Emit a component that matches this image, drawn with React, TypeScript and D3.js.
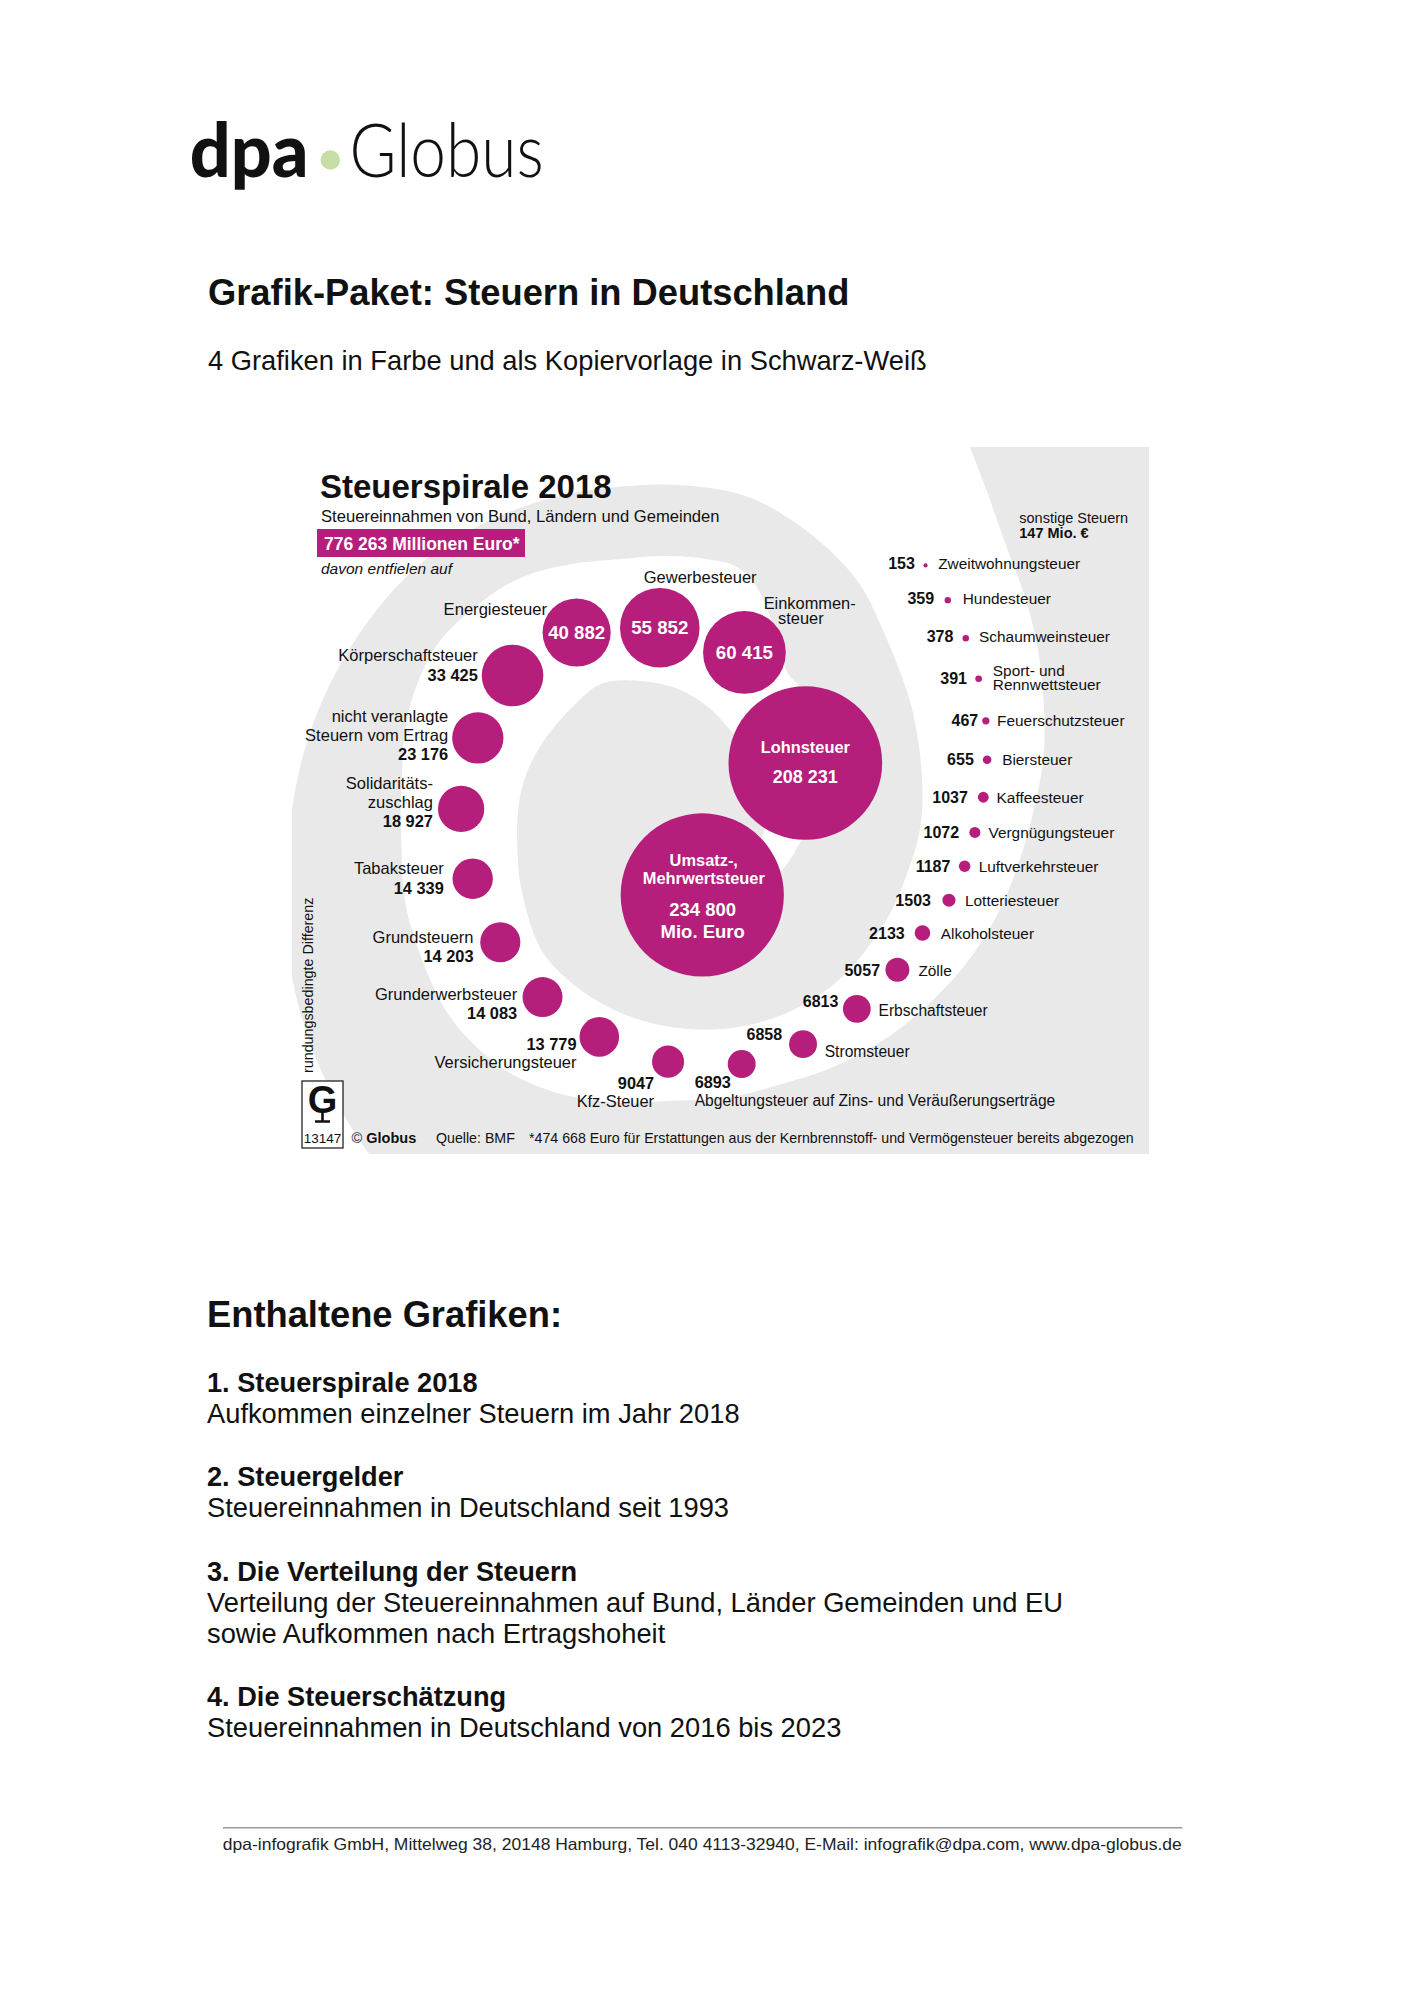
import React from "react";
import * as d3 from "d3";

// ---------------- data ----------------
const taxNames: string[][] = [
  ["Umsatz-,", "Mehrwertsteuer"],
  ["Lohnsteuer"],
  ["Einkommen-", "steuer"],
  ["Gewerbesteuer"],
  ["Energiesteuer"],
  ["Körperschaftsteuer"],
  ["nicht veranlagte", "Steuern vom Ertrag"],
  ["Solidaritäts-", "zuschlag"],
  ["Tabaksteuer"],
  ["Grundsteuern"],
  ["Grunderwerbsteuer"],
  ["Versicherungsteuer"],
  ["Kfz-Steuer"],
  ["Abgeltungsteuer auf Zins- und Veräußerungserträge"],
  ["Stromsteuer"],
  ["Erbschaftsteuer"],
  ["Zölle"],
  ["Alkoholsteuer"],
  ["Lotteriesteuer"],
  ["Luftverkehrsteuer"],
  ["Vergnügungsteuer"],
  ["Kaffeesteuer"],
  ["Biersteuer"],
  ["Feuerschutzsteuer"],
  ["Sport- und", "Rennwettsteuer"],
  ["Schaumweinsteuer"],
  ["Hundesteuer"],
  ["Zweitwohnungsteuer"],
];
const taxValues: number[] = [
  234800, 208231, 60415, 55852, 40882, 33425, 23176, 18927, 14339, 14203, 14083, 13779,
  9047, 6893, 6858, 6813, 5057, 2133, 1503, 1187, 1072, 1037, 655, 467, 391, 378, 359, 153,
];
const totalValue = 776263;
const otherTaxesValue = 147;
const unitLabel = "Mio. Euro";
const chartNumber = "13147";
const footnote =
  "*474 668 Euro für Erstattungen aus der Kernbrennstoff- und Vermögensteuer bereits abgezogen";

const listTitles = [
  "1. Steuerspirale 2018",
  "2. Steuergelder",
  "3. Die Verteilung der Steuern",
  "4. Die Steuerschätzung",
];
const listDescriptions: string[][] = [
  ["Aufkommen einzelner Steuern im Jahr 2018"],
  ["Steuereinnahmen in Deutschland seit 1993"],
  [
    "Verteilung der Steuereinnahmen auf Bund, Länder Gemeinden und EU",
    "sowie Aufkommen nach Ertragshoheit",
  ],
  ["Steuereinnahmen in Deutschland von 2016 bis 2023"],
];

// ---------------- styles / layout ----------------
const MAGENTA = "#b51e7b";
const GRAY = "#e9e9e9";
const INK = "#111";
const FONT = "'Liberation Sans', Arial, Helvetica, sans-serif";

const SP_CX = 700;
const SP_CY = 830;
const GUIDE_DEG = [-60, -49.4, -20.7, 0.4, 16.2, 25.3, 36, 49.6, 80, 115, 151, 168, 185, 202, 219, 238, 259, 284, 327, 448, 460];
const GUIDE_R = [360, 347.5, 305.7, 275, 258.2, 244.5, 241.7, 237.6, 237.7, 230.1, 229.1, 232.5, 239.8, 240.4, 243.2, 232.8, 205.9, 183.1, 125.1, 65, 60];
const SPIRAL_START_DEG = 448;

const BAND_IN_DEG = [-300, -226, -180, -152, -137, -120, -103, -82, -57, -48, -38, -22, -12, 0, 12, 32, 52, 68, 85, 98, 142, 157, 175, 196, 222, 236, 252, 257, 285, 295, 330, 367, 400, 432];
const BAND_IN_R = [540, 465, 410, 394, 387, 370, 352, 338, 294, 271, 254, 235, 227, 220, 211, 205, 204, 202, 200, 199, 200, 190, 183, 183, 177, 178, 155, 149, 106, 96, 75, 62, 50, 40];
const BAND_OUT_DEG = [-300, -70, -60, -55, -44, -34, -20.8, -9, -5, 6.7, 19.7, 36, 52.8, 71.8, 90, 96, 118, 129, 142.6, 156, 166, 177, 190, 202, 215, 234, 253, 280, 297, 320, 340, 367, 400, 432];
const BAND_OUT_R = [900, 700, 500, 467, 419, 396, 367, 346, 336, 319, 305, 288, 276, 266, 270, 271, 299, 310, 313, 306, 304, 298, 302, 315, 323, 311, 282, 266, 180, 165, 140, 100, 85, 60];

const PANEL = { x: 292, y: 447, w: 857, h: 707 };

const LABEL_LAYOUT: any[] = [
  { kind: "inside", nameDy: [-29, -10.6], valueDy: 20.7, unitDy: 42.7, dx: 1.5, nameSize: 16.4, valueSize: 18.5 },
  { kind: "inside", nameDy: [-10], valueDy: 20, dx: 0, nameSize: 16.4, valueSize: 18 },
  { kind: "valueInside", valueDy: 6.6, valueSize: 18.7, anchor: "start", nameDx: [19.2, 33.6], nameDy: [-43.4, -28.4], nameSize: 16.4 },
  { kind: "valueInside", valueDy: 6.5, valueSize: 18.7, anchor: "start", nameDx: [-16], nameDy: [-44.4], nameSize: 16.5 },
  { kind: "valueInside", valueDy: 6.7, valueSize: 18.6, anchor: "end", nameDx: [-29.7], nameDy: [-18], nameSize: 16.6 },
  { kind: "left", gap: 4, nameDy: [-14], valueDy: 6 },
  { kind: "left", gap: 4, nameDy: [-16, 3], valueDy: 22 },
  { kind: "left", gap: 5, nameDy: [-20, -1.3], valueDy: 17.7 },
  { kind: "left", gap: 8.7, nameDy: [-4.3], valueDy: 15 },
  { kind: "left", gap: 6.7, nameDy: [0.7], valueDy: 19.7 },
  { kind: "left", gap: 5.4, nameDy: [2.7], valueDy: 22 },
  { kind: "left", gap: 3, nameDy: [31], valueDy: 13 },
  { kind: "offset", anchor: "end", dx: -14, nameDy: [45], valueDy: 27, nameSize: 16.4 },
  { kind: "offset", anchor: "start", dx: -47, nameDy: [42], valueDy: 24, nameSize: 15.6 },
  { kind: "split", gapL: 7, gapR: 7.7, valueDy: -4, nameDy: [13], nameSize: 15.6 },
  { kind: "split", gapL: 4.6, gapR: 7.8, valueDy: -2, nameDy: [6.7], nameSize: 15.6 },
  { kind: "split", gapL: 5.4, gapR: 9, valueDy: 6, nameDy: [6] },
  { kind: "split", gapL: 10, gapR: 10.5, valueDy: 5.7, nameDy: [5.7] },
  { kind: "split", gapL: 11.5, gapR: 9.5, valueDy: 6, nameDy: [6] },
  { kind: "split", gapL: 8.5, gapR: 8.2, valueDy: 5.7, nameDy: [5.7] },
  { kind: "split", gapL: 10.2, gapR: 8.1, valueDy: 5.6, nameDy: [5.6] },
  { kind: "split", gapL: 10, gapR: 7.9, valueDy: 5.4, nameDy: [5.4] },
  { kind: "split", gapL: 9, gapR: 10.7, valueDy: 5.3, nameDy: [5.3] },
  { kind: "split", gapL: 4, gapR: 7.6, valueDy: 5, nameDy: [5] },
  { kind: "split", gapL: 8.3, gapR: 10.9, valueDy: 5, nameDy: [-2.7, 11.7] },
  { kind: "split", gapL: 9.1, gapR: 10, valueDy: 4, nameDy: [4] },
  { kind: "split", gapL: 10.5, gapR: 11.8, valueDy: 4.3, nameDy: [4.3] },
  { kind: "split", gapL: 8.6, gapR: 10.5, valueDy: 4, nameDy: [4] },
];

// ---------------- helpers ----------------
const groupFmt = d3.format(",d");
const fmt = (v: number) => (v >= 10000 ? groupFmt(v).replace(/,/g, " ") : String(v));
const rad = (d: number) => (d * Math.PI) / 180;

const rScale = d3.scaleSqrt().domain([0, d3.max(taxValues) as number]).range([0, 81.6]);
const guideR = d3.scaleLinear().domain(GUIDE_DEG).range(GUIDE_R);
const gapScale = d3
  .scaleLinear()
  .domain([0, 7, 8, 10, 11.5, 14, 20, 26.5, 27.5, 29, 31, 36, 40, 48, 56, 81, 160])
  .range([37, 35.5, 30.5, 27.5, 23.5, 28, 24.5, 31, 36.3, 37, 50, 36.5, 29, 25, 15, 7, 9])
  .clamp(true);

const guidePt = (deg: number): [number, number] => {
  const r = guideR(deg);
  return [SP_CX + r * Math.cos(rad(deg)), SP_CY + r * Math.sin(rad(deg))];
};

function computeLayout() {
  const out: { deg: number; x: number; y: number; r: number }[] = [];
  taxValues.forEach((v, i) => {
    const r = rScale(v);
    if (i === 0) {
      const [x, y] = guidePt(SPIRAL_START_DEG);
      out.push({ deg: SPIRAL_START_DEG, x, y, r });
      return;
    }
    const prev = out[i - 1];
    const need = prev.r + r + gapScale(prev.r + r);
    let deg = prev.deg;
    let [x, y] = guidePt(deg);
    while (Math.hypot(x - prev.x, y - prev.y) < need && deg > -80) {
      deg -= 0.05;
      [x, y] = guidePt(deg);
    }
    out.push({ deg, x, y, r });
  });
  return out;
}

function bandPath() {
  const ri = d3.scaleLinear().domain(BAND_IN_DEG).range(BAND_IN_R);
  const ro = d3.scaleLinear().domain(BAND_OUT_DEG).range(BAND_OUT_R);
  const thetas = d3.range(-300, 432.01, 1);
  const smooth = (arr: number[], k: number) =>
    arr.map((_, i) => d3.mean(arr.slice(Math.max(0, i - k), Math.min(arr.length, i + k + 1))) as number);
  const rIn = smooth(thetas.map((t) => ri(t)), 4);
  const rOut = smooth(thetas.map((t) => ro(t)), 4);
  const pt = (t: number, r: number): [number, number] => [
    SP_CX + r * Math.cos(rad(t)),
    SP_CY + r * Math.sin(rad(t)),
  ];
  const outer = thetas.map((t, i) => pt(t, rOut[i]));
  const inner = thetas.map((t, i) => pt(t, rIn[i])).reverse();
  return (d3.line()([...outer, ...inner]) as string) + "Z";
}

type T = { x: number; y: number; text: string; anchor: string; size: number; bold?: boolean; fill?: string };

function labelTexts(i: number, p: { x: number; y: number; r: number }): T[] {
  const s = LABEL_LAYOUT[i];
  const names = taxNames[i];
  const val = fmt(taxValues[i]);
  const { x: cx, y: cy, r } = p;
  const res: T[] = [];
  if (s.kind === "inside") {
    names.forEach((n, k) =>
      res.push({ x: cx + s.dx, y: cy + s.nameDy[k], text: n, anchor: "middle", size: s.nameSize, bold: true, fill: "#fff" })
    );
    res.push({ x: cx + s.dx * 0.3, y: cy + s.valueDy, text: val, anchor: "middle", size: s.valueSize, bold: true, fill: "#fff" });
    if (s.unitDy !== undefined)
      res.push({ x: cx + s.dx * 0.3, y: cy + s.unitDy, text: unitLabel, anchor: "middle", size: s.valueSize, bold: true, fill: "#fff" });
  } else if (s.kind === "valueInside") {
    res.push({ x: cx, y: cy + s.valueDy, text: val, anchor: "middle", size: s.valueSize, bold: true, fill: "#fff" });
    names.forEach((n, k) =>
      res.push({ x: cx + s.nameDx[k], y: cy + s.nameDy[k], text: n, anchor: s.anchor, size: s.nameSize })
    );
  } else if (s.kind === "left") {
    const x = cx - r - s.gap;
    names.forEach((n, k) => res.push({ x, y: cy + s.nameDy[k], text: n, anchor: "end", size: s.nameSize || 16.5 }));
    res.push({ x, y: cy + s.valueDy, text: val, anchor: "end", size: s.valueSize || 16.4, bold: true });
  } else if (s.kind === "offset") {
    const x = cx + s.dx;
    names.forEach((n, k) => res.push({ x, y: cy + s.nameDy[k], text: n, anchor: s.anchor, size: s.nameSize || 16.4 }));
    res.push({ x, y: cy + s.valueDy, text: val, anchor: s.anchor, size: 16.3, bold: true });
  } else {
    res.push({ x: cx - r - s.gapL, y: cy + s.valueDy, text: val, anchor: "end", size: s.valueSize || 16, bold: true });
    names.forEach((n, k) =>
      res.push({ x: cx + r + s.gapR, y: cy + s.nameDy[k], text: n, anchor: "start", size: s.nameSize || 15.4 })
    );
  }
  return res;
}

// ---------------- component ----------------
export default function App() {
  const layout = React.useMemo(() => computeLayout(), []);
  const band = React.useMemo(() => bandPath(), []);

  const listRows: { y: number; text: string; bold: boolean }[] = [];
  let yy = 1391.5;
  listTitles.forEach((t, k) => {
    listRows.push({ y: yy, text: t, bold: true });
    listDescriptions[k].forEach((d, j) => listRows.push({ y: yy + 31 * (j + 1), text: d, bold: false }));
    yy += 31 * listDescriptions[k].length + 63.5;
  });

  const allLabels = layout.flatMap((p, i) => labelTexts(i, p));

  return (
    <svg
      width={1413}
      height={2000}
      viewBox="0 0 1413 2000"
      style={{ position: "absolute", left: 0, top: 0, display: "block", background: "#fff" }}
      fontFamily={FONT}
    >
      <rect x={0} y={0} width={1413} height={2000} fill="#fff" />

      {/* Logo */}
      <text x={189.7} y={176.7} fontFamily="Lato, 'DejaVu Sans', sans-serif" fontWeight={900} fontSize={75} textLength={118.7} lengthAdjust="spacingAndGlyphs" fill="#111">
        dpa
      </text>
      <circle cx={330.3} cy={160} r={9.7} fill="#c6dea6" />
      <text x={349.6} y={176.7} fontFamily="Lato, 'DejaVu Sans', sans-serif" fontWeight={300} fontSize={74} textLength={194} lengthAdjust="spacingAndGlyphs" fill="#111">
        Globus
      </text>

      <text x={208} y={305} fontSize={36.3} fontWeight="bold" fill={INK}>
        Grafik-Paket: Steuern in Deutschland
      </text>
      <text x={208} y={370} fontSize={27.3} fill={INK}>
        4 Grafiken in Farbe und als Kopiervorlage in Schwarz-Weiß
      </text>

      {/* Chart panel */}
      <defs>
        <clipPath id="panelClip">
          <rect x={PANEL.x} y={PANEL.y} width={PANEL.w} height={PANEL.h} />
        </clipPath>
      </defs>
      <rect x={PANEL.x} y={PANEL.y} width={PANEL.w} height={PANEL.h} fill={GRAY} />
      <path d={band} fill="#fff" clipPath="url(#panelClip)" />

      {layout.map((p, i) => (
        <circle key={"c" + i} cx={p.x} cy={p.y} r={p.r} fill={MAGENTA} />
      ))}

      {allLabels.map((t, k) => (
        <text
          key={"l" + k}
          x={t.x}
          y={t.y}
          textAnchor={t.anchor as any}
          fontSize={t.size}
          fontWeight={t.bold ? "bold" : "normal"}
          fill={t.fill || INK}
        >
          {t.text}
        </text>
      ))}

      {/* chart header */}
      <text x={320} y={498} fontSize={33} fontWeight="bold" fill={INK}>
        Steuerspirale 2018
      </text>
      <text x={321} y={522} fontSize={16.6} fill={INK}>
        Steuereinnahmen von Bund, Ländern und Gemeinden
      </text>
      <rect x={317} y={529} width={208} height={28} fill={MAGENTA} />
      <text x={324} y={550} fontSize={17.5} fontWeight="bold" fill="#fff">
        {fmt(totalValue)} Millionen Euro*
      </text>
      <text x={321} y={574} fontSize={15.5} fontStyle="italic" fill={INK}>
        davon entfielen auf
      </text>

      <text x={1019.3} y={523.3} fontSize={14.5} fill={INK}>
        sonstige Steuern
      </text>
      <text x={1019.3} y={537.7} fontSize={14.5} fontWeight="bold" fill={INK}>
        {otherTaxesValue} Mio. €
      </text>

      <text transform="translate(312.5,1073) rotate(-90)" fontSize={14.3} fill={INK}>
        rundungsbedingte Differenz
      </text>

      {/* chart footer */}
      <rect x={302} y={1081} width={41} height={67} fill="#fff" stroke={INK} strokeWidth={1.2} />
      <text x={322.5} y={1113} textAnchor="middle" fontSize={38} fontWeight="bold" fill={INK}>
        G
      </text>
      <path d="M322.5,1112 V1121 M315,1121.5 H330" stroke={INK} strokeWidth={2.6} fill="none" />
      <text x={322.5} y={1143} textAnchor="middle" fontSize={13.5} fill={INK}>
        {chartNumber}
      </text>
      <text x={351.6} y={1143} fontSize={14.5} fill={INK}>
        <tspan>© </tspan>
        <tspan fontWeight="bold">Globus</tspan>
      </text>
      <text x={436} y={1143} fontSize={14.2} fill={INK}>
        Quelle: BMF
      </text>
      <text x={529} y={1143} fontSize={14.2} fill={INK}>
        {footnote}
      </text>

      {/* list */}
      <text x={207} y={1326.7} fontSize={36.3} fontWeight="bold" fill={INK}>
        Enthaltene Grafiken:
      </text>
      {listRows.map((r, k) => (
        <text key={"row" + k} x={207} y={r.y} fontSize={r.bold ? 27.2 : 27.3} fontWeight={r.bold ? "bold" : "normal"} fill={INK}>
          {r.text}
        </text>
      ))}

      {/* page footer */}
      <line x1={222.8} x2={1182.3} y1={1827.7} y2={1827.7} stroke="#9a9a9a" strokeWidth={1.5} />
      <text
        x={222.8}
        y={1850}
        fontSize={16.5}
        fontFamily="'Liberation Sans Narrow', 'Liberation Sans', Arial, sans-serif"
        textLength={959}
        lengthAdjust="spacingAndGlyphs"
        fill="#222"
      >
        dpa-infografik GmbH, Mittelweg 38, 20148 Hamburg, Tel. 040 4113-32940, E-Mail: infografik@dpa.com,   www.dpa-globus.de
      </text>
    </svg>
  );
}
